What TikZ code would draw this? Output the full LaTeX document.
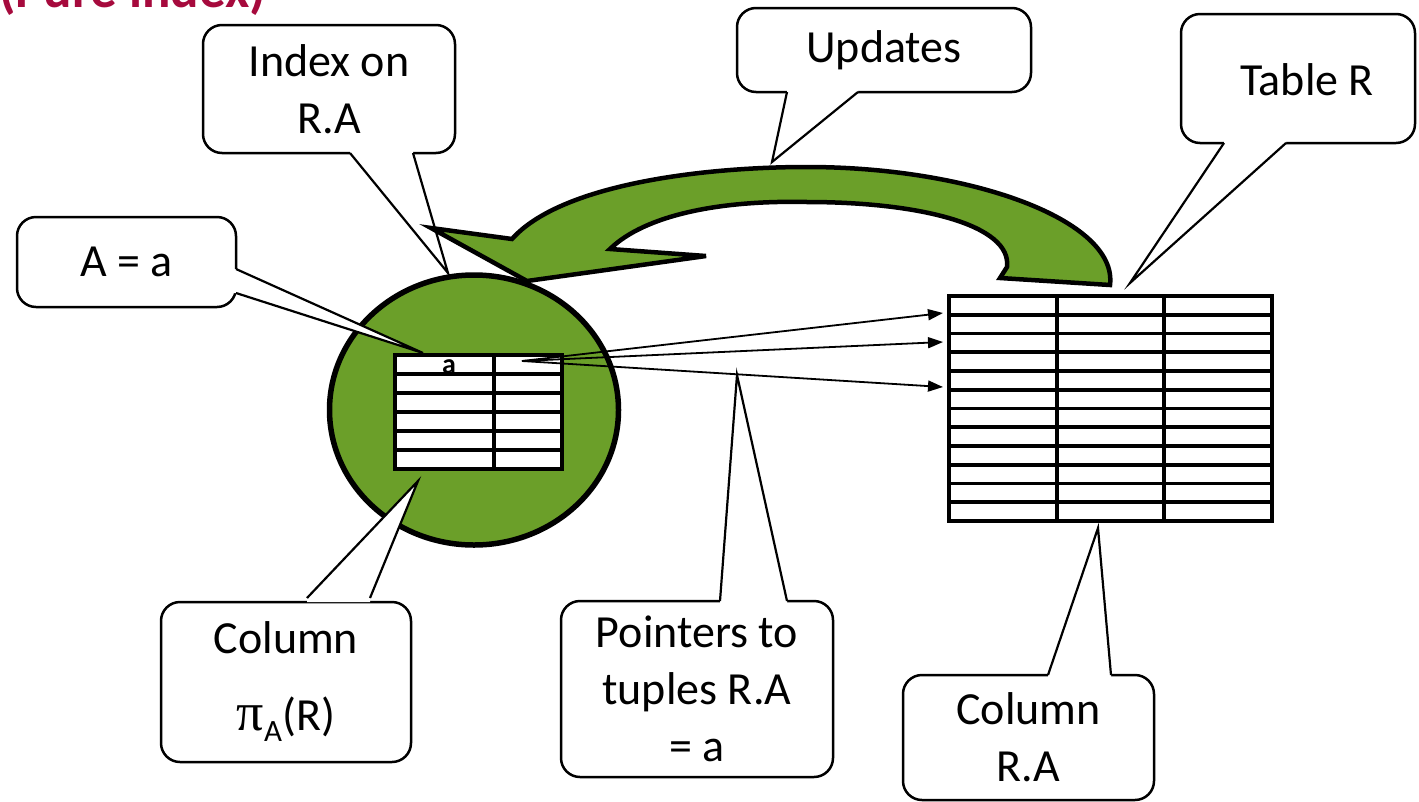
\documentclass[tikz,border=0pt]{standalone}
\usepackage{fontspec}
\setmainfont{Carlito}
\newfontfamily\pifont{Liberation Serif}
\usetikzlibrary{arrows.meta,calc,shapes.geometric}
\definecolor{leaf}{RGB}{107,159,41}
\definecolor{titlered}{RGB}{166,10,61}
\newcommand\cfont{\fontsize{46}{57}\selectfont}
\newcommand\wedgeshape[4]{%
  \fill[white] ($(#1)+(#4)$) -- (#1) -- (#3) -- (#2) -- ($(#2)+(#4)$) -- cycle;
  \draw[wedgeline] (#1) -- (#3) -- (#2);}
\tikzset{
  cbox/.style={draw=black, line width=2.5pt, fill=white, rounded corners=19pt,
    inner sep=0pt, align=center, font=\cfont},
  wedgeline/.style={line width=2.2pt, line join=miter},
  tline/.style={line width=3.6pt},
  tablebox/.style={draw=black, fill=white, line width=3.6pt, inner sep=0pt},
  ptr/.style={line width=1.8pt, -{Triangle[length=15pt,width=11pt]}},
  updarrow/.style={draw=black, fill=leaf, line width=4.5pt, line join=miter, miter limit=6},
}
\begin{document}
\begin{tikzpicture}[x=1pt,y=-1pt]
\useasboundingbox (0,0) rectangle (1419,801);

% title (cut off at top, as in the reference)
\node[anchor=base west, inner sep=0pt, text=titlered,
      font=\bfseries\fontsize{53}{60}\selectfont] (title) at (-1,7) {(Pure index)};

% Table R
\node[tablebox, minimum width=323pt, minimum height=225pt] (tabR) at (1110.5,408.5) {};
\foreach \i in {1,...,11} \draw[tline] (949,{296+18.75*\i}) -- (1272,{296+18.75*\i});
\draw[tline] (1057,296) -- (1057,521);
\draw[tline] (1164,296) -- (1164,521);

% green index disc
\node[ellipse, draw=black, fill=leaf, line width=5.5pt, minimum width=289pt,
      minimum height=270pt, inner sep=0pt] (disc) at (474,410) {};

% index column table
\node[tablebox, minimum width=167pt, minimum height=114pt] (idxtab) at (478.5,412) {};
\foreach \i in {1,...,5} \draw[tline] (395,{355+19*\i}) -- (562,{355+19*\i});
\draw[tline] (494,355) -- (494,469);
\node[anchor=base, inner sep=0pt, font=\bfseries\fontsize{28}{30}\selectfont] (aval) at (449,373) {a};

% pointers
\coordinate (src) at (522,361);
\coordinate (t1) at (943,313);
\coordinate (t2) at (943,342);
\coordinate (t3) at (943,387);
\draw[ptr] (src) -- (t1);
\draw[ptr] (src) -- (t2);
\draw[ptr] (src) -- (t3);

% callout: Index on R.A (drawn below the update arrow)
\node[cbox, minimum width=252pt, minimum height=128pt] (idx) at (329,89) {Index on\\R.A};
\wedgeshape{350,153}{413,153}{448,273}{0,-4}

% Updates arrow
\draw[updarrow] (512,239) .. controls (560,185) and (700,167) .. (807,167)
  .. controls (970,167) and (1118,220) .. (1110,285)
  -- (1000,278) -- (1007,267)
  .. controls (1012,225) and (920,202) .. (807,202)
  .. controls (720,200) and (645,215) .. (610,249)
  -- (706,256) -- (527,281) -- (431,228) -- cycle;

% callout: A = a
\node[cbox, minimum width=219pt, minimum height=90pt] (aeq) at (126.5,262) {A = a};
\wedgeshape{236,269}{236,293}{423,353}{-4,0}

% callout: Updates
\node[cbox, minimum width=294pt, minimum height=84pt] (upd) at (884,50) {Updates};
\wedgeshape{787,92}{858,92}{772,162}{0,-4}

% callout: Table R
\node[cbox, minimum width=234pt, minimum height=129pt] (tabRbox) at (1298,78.5) {};
\node[inner sep=0pt, font=\cfont] (tabRtext) at (1307,80) {Table R};
\wedgeshape{1224,143}{1286,143}{1130,283}{0,-4}

% callout: Column pi_A(R)
\node[cbox, minimum width=250pt, minimum height=160pt] (colA) at (286,682)
  {Column\\[20pt]{\pifont\fontsize{54}{57}\selectfont π}\raisebox{-11pt}{\fontsize{31}{31}\selectfont A}(R)};
\wedgeshape{307,598}{370,598}{418,481}{0,4}

% callout: Pointers to tuples R.A = a
\node[cbox, minimum width=272pt, minimum height=176pt] (ptrs) at (697,689)
  {Pointers to\\tuples R.A\\= a};
\wedgeshape{720,601}{787,601}{737,375}{0,4}

% callout: Column R.A
\node[cbox, minimum width=251pt, minimum height=125pt] (colR) at (1028.5,737.5)
  {Column\\R.A};
\wedgeshape{1048,675}{1111,675}{1098,528}{0,4}
\end{tikzpicture}
\end{document}
